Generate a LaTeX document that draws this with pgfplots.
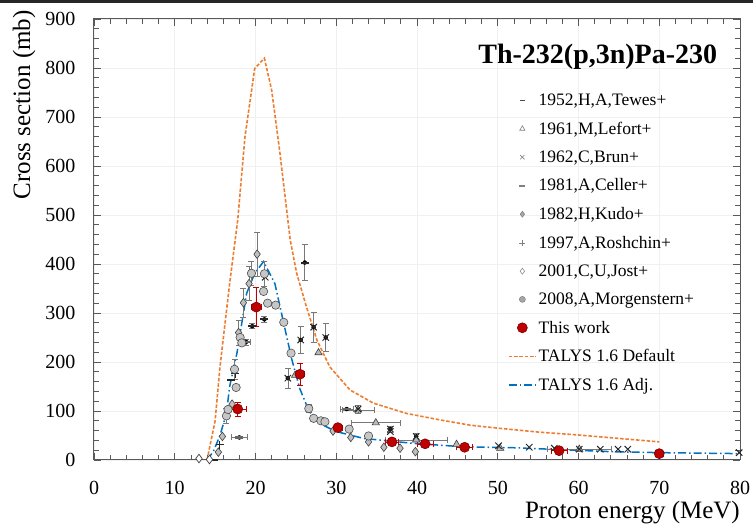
\documentclass[border=0pt]{standalone}
\usepackage{fontspec}
\setmainfont{Liberation Serif}
\usepackage{pgfplots}
\pgfplotsset{compat=1.18}
\definecolor{talysorange}{RGB}{237,125,49}
\definecolor{talysblue}{RGB}{0,112,192}
\definecolor{workred}{RGB}{192,0,0}
\definecolor{workedge}{RGB}{120,0,0}
\definecolor{errgrey}{RGB}{120,120,120}

\pgfplotsset{
  errY/.style={only marks, mark=none, forget plot,
    error bars/.cd, y dir=both, y explicit,
    error bar style={line width=0.6pt, #1},
    error mark options={rotate=90, mark size=3pt, line width=0.6pt, #1}},
  errX/.style={only marks, mark=none, forget plot,
    error bars/.cd, x dir=both, x explicit,
    error bar style={line width=0.6pt, #1},
    error mark options={rotate=90, mark size=3pt, line width=0.6pt, #1}},
}

\begin{document}
\begin{tikzpicture}
\useasboundingbox (0pt,0pt) rectangle (753pt,526pt);
\fill[black!85] (0pt,523pt) rectangle (753pt,526pt);
\begin{axis}[
  at={(94pt,66pt)}, anchor=south west,
  scale only axis, width=646pt, height=441pt,
  xmin=0, xmax=80, ymin=0, ymax=900,
  xtick={0,10,...,80}, ytick={0,100,...,900},
  minor x tick num=4, minor y tick num=4,
  tick align=inside, major tick length=7pt, minor tick length=5pt,
  every tick/.style={black!65, line width=0.8pt},
  grid=major, major grid style={gray!12, line width=0.7pt},
  axis line style={black!65, line width=1pt},
  clip=false,
  /pgf/number format/assume math mode=true,
  ticklabel style={font=\fontsize{20}{24}\selectfont},
  xticklabel style={yshift=-18pt},
  yticklabel style={xshift=-15pt},
  xlabel={Proton energy (MeV)},
  ylabel={Cross section (mb)},
  label style={font=\fontsize{25}{30}\selectfont},
  xlabel style={at={(rel axis cs:1,-0.12)}, anchor=east, inner sep=0pt},
  ylabel style={at={(rel axis cs:-0.108,1.02)}, anchor=east, inner sep=0pt},
  legend image code/.code={\draw[mark repeat=2,mark phase=2,#1] plot coordinates {(0pt,0pt)(13.5pt,0pt)(27pt,0pt)};},
  legend style={at={(rel axis cs:0.636,0.84)}, anchor=north west, draw=none, fill=none,
    font=\fontsize{17.5}{20}\selectfont, row sep=11pt},
  legend cell align=left,
]

% TALYS curves
\addplot[forget plot, talysorange, line width=1.6pt, dash pattern=on 3.5pt off 1.8pt] coordinates {
(14.0,0) (15.0,80) (15.6,190) (16.8,360) (17.8,490) (18.7,660) (19.9,799) (21.1,820)
(22.0,755) (23.0,630) (24.3,449) (25.1,381) (26.3,313) (27.6,245) (29.2,190) (31.7,143)
(34.6,116) (38.7,95) (42.8,82) (46.6,71) (50,65) (55,57) (60,51) (65,44) (70,37)};
\addplot[forget plot, talysblue, line width=1.5pt, dash pattern=on 8pt off 3pt on 1.5pt off 3pt] coordinates {
(14.0,0) (14.8,18) (15.6,50) (16.4,95) (16.8,150) (17.7,218) (18.9,340) (19.9,381) (21.0,405)
(22.4,360) (23.4,286) (24.5,205) (25.5,145) (26.5,105) (27.2,85) (28.5,70) (30,58) (33.4,44)
(39.5,34) (45.7,27) (52,25) (58,21) (64,17) (70,15) (80,13)};

% error bars of literature data
\addplot[errY=errgrey] table[x=x, y=y, y error=e] {
x y e
26.1 403 37
24.0 167 20
25.6 245 28
27.2 271 31
28.7 250 29
32.7 104 8
36.7 63 6
39.9 48 6
18.8 241 6
17.9 260 25
18.5 321 30
19.2 360 35
20.2 420 45
16.4 90 15
17.4 185 20
19.5 381 25
21.1 380 25
26.6 105 8
21.1 287 6
19.6 273 5
};
\addplot[errX=errgrey] table[x=x, y=y, x error=e] {
x y e
18.0 46 1.0
18.8 241 0.5
31.3 104 0.8
32.7 102 2.0
34.9 76 3.0
39.9 41 3.8
60.1 22 4.0
};

% 1952 Tewes
\addplot[forget plot, only marks, mark=-, mark size=4pt, mark options={black!85, line width=2pt}] coordinates {
(14.8,1) (17.0,163) (19.6,273) (21.1,287) (26.1,403)};
% 1961 Lefort
\addplot[forget plot, only marks, mark=triangle*, mark size=4.2pt, mark options={fill=gray!55, draw=black!75, line width=0.6pt}] coordinates {
(27.8,219) (24.9,173) (32.7,102) (34.9,76) (39.9,41) (44.9,32) (50.3,24) (60.1,22)};
% 1962 Brun
\addplot[forget plot, only marks, mark=x, mark size=4.5pt, mark options={black!85, line width=1pt}] coordinates {
(21.2,373) (24.0,167) (25.6,245) (27.2,271) (28.7,250) (32.7,104) (36.7,63) (36.7,58) (39.9,48)
(50.1,29) (53.9,26) (57.0,24) (60.1,22) (62.7,22) (64.9,22) (66.1,22) (79.9,15)};
% 1981 Celler
\addplot[forget plot, only marks, mark=-, mark size=4pt, mark options={black!60, line width=2.6pt}] coordinates {
(18.0,46) (18.8,241) (31.3,104)};
% 1982 Kudo
\addplot[forget plot, only marks, mark=diamond*, mark size=4.3pt, mark options={fill=gray!50, draw=black!75, line width=0.6pt}] coordinates {
(15.4,16) (15.9,48) (17.1,114) (17.9,260) (18.5,321) (19.2,360) (20.2,420) (29.6,59)
(31.8,46) (34.0,37) (35.9,26) (37.9,24) (39.8,17)};
% 1997 Roshchin
\addplot[forget plot, only marks, mark=+, mark size=4pt, mark options={black!85, line width=1pt}] coordinates {
(15.6,31) (17.5,176)};
% 2001 Jost
\addplot[forget plot, only marks, mark=diamond*, mark size=4.3pt, mark options={fill=white, draw=black!75, line width=0.7pt}] coordinates {
(13.0,3) (14.3,1)};
% 2008 Morgenstern
\addplot[forget plot, only marks, mark=*, mark size=4.2pt, mark options={fill=gray!45, draw=black!70, line width=0.6pt}] coordinates {
(16.4,90) (16.6,103) (17.4,185) (17.6,148) (18.1,250) (18.3,239) (19.5,381) (21.1,380)
(21.0,344) (21.5,320) (22.5,316) (23.5,281) (24.4,218) (26.6,105) (27.2,85) (28.1,80)
(28.6,78) (31.6,63) (34.0,49)};

% This work
\addplot[errY=workred] table[x=x, y=y, y error=e] {
x y e
17.8 104 14
20.1 312 40
25.5 175 23
30.2 66 5
36.9 37 4
41.0 33 3
45.9 26 3
57.6 19 2
70.0 13 2
};
\addplot[errX=workred] table[x=x, y=y, x error=e] {
x y e
17.8 104 1.1
20.1 312 0.6
25.5 175 0.6
30.2 66 0.5
36.9 37 0.8
41.0 33 1.0
45.9 26 1.0
57.6 19 1.0
70.0 13 0.5
};
\addplot[forget plot, only marks, mark=*, mark size=5pt, mark options={fill=workred, draw=workedge, line width=0.6pt}] coordinates {
(17.8,104) (20.1,312) (25.5,175) (30.2,66) (36.9,37) (41.0,33) (45.9,26) (57.6,19) (70.0,13)};

% legend
\addlegendimage{only marks, mark=-, mark size=2.5pt, mark options={black!70, line width=1.5pt}}
\addlegendentry{1952,H,A,Tewes+}
\addlegendimage{only marks, mark=triangle, mark size=3pt, mark options={gray, line width=0.6pt}}
\addlegendentry{1961,M,Lefort+}
\addlegendimage{only marks, mark=x, mark size=3pt, mark options={gray, line width=0.6pt}}
\addlegendentry{1962,C,Brun+}
\addlegendimage{only marks, mark=-, mark size=3pt, mark options={gray, line width=2pt}}
\addlegendentry{1981,A,Celler+}
\addlegendimage{only marks, mark=diamond*, mark size=3pt, mark options={fill=gray!70, draw=gray, line width=0.5pt}}
\addlegendentry{1982,H,Kudo+}
\addlegendimage{only marks, mark=+, mark size=3pt, mark options={gray, line width=0.6pt}}
\addlegendentry{1997,A,Roshchin+}
\addlegendimage{only marks, mark=diamond*, mark size=3pt, mark options={fill=white, draw=gray, line width=0.5pt}}
\addlegendentry{2001,C,U,Jost+}
\addlegendimage{only marks, mark=*, mark size=3pt, mark options={fill=gray!70, draw=gray, line width=0.5pt}}
\addlegendentry{2008,A,Morgenstern+}
\addlegendimage{only marks, mark=*, mark size=5pt, mark options={fill=workred, draw=workedge, line width=0.6pt}}
\addlegendentry{This work}
\addlegendimage{talysorange, line width=1.6pt, dash pattern=on 3.5pt off 1.8pt}
\addlegendentry{TALYS 1.6 Default}
\addlegendimage{talysblue, line width=1.5pt, dash pattern=on 8pt off 3pt on 1.5pt off 3pt}
\addlegendentry{TALYS 1.6 Adj.}

\node[anchor=base east, inner sep=0pt, font=\fontsize{28}{32}\selectfont\bfseries] at (axis cs:77.2,810) {Th-232(p,3n)Pa-230};
\end{axis}
\end{tikzpicture}
\end{document}
